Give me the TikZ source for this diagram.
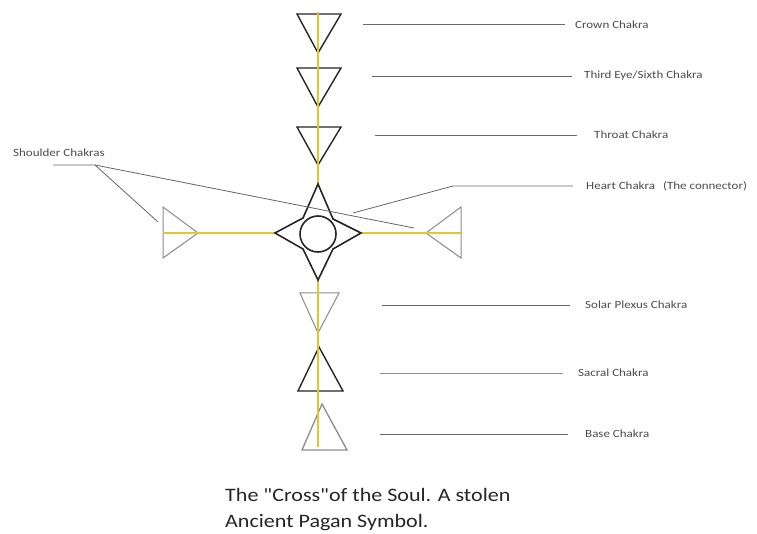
\documentclass[tikz,border=0pt]{standalone}
\usepackage{fontspec}
\setmainfont{Carlito}[Ligatures=TeXOff]
\newcommand{\hsl}[1]{\scalebox{1.18}[1]{#1}}
\newcommand{\hsc}[1]{\scalebox{1.16}[1]{#1}}
\begin{document}
\begin{tikzpicture}[x=1pt,y=-1pt,
  tri/.style={draw=black!85,line width=1.4pt,line join=miter},
  tril/.style={draw=black!45,line width=1pt},
  axis/.style={draw=yellowax,line width=2.6pt},
  lead/.style={draw=black!60,line width=0.8pt},
  lab/.style={anchor=west,inner sep=0pt,font=\fontsize{11}{13}\selectfont,text=black!70},
  captext/.style={anchor=north west,inner sep=0pt,align=left,font=\fontsize{19}{26}\selectfont,text=black!85}]
\definecolor{yellowax}{RGB}{226,196,52}
\useasboundingbox (0,0) rectangle (757,534);
\fill[white] (0,0) rectangle (757,534);
% triangles (top)
\draw[tri] (297,14) -- (341,14) -- (318,53) -- cycle;
\draw[tri] (297,68) -- (341,68) -- (318,107) -- cycle;
\draw[tri] (297,127) -- (341,127) -- (318,165) -- cycle;
% bottom
\draw[tril] (300,293) -- (339,293) -- (318,333) -- cycle;
\draw[tri] (298,391) -- (343,391) -- (319,347) -- cycle;
\draw[tril,line width=1.3pt] (302,450) -- (347,450) -- (322,404) -- cycle;
% shoulders
\draw[tril] (163,207) -- (163,258) -- (198,233) -- cycle;
\draw[tril] (461,207) -- (461,258) -- (426,233) -- cycle;
% axes
\draw[axis] (318,12) -- (318,185);
\draw[axis] (318,280) -- (318,447);
\draw[axis] (163,233) -- (275,233);
\draw[axis] (361,233) -- (462,233);
% heart star
\coordinate (hc) at (318,234);
\draw[tri,line width=1.6pt] (318,184) -- (333,219) -- (361,233) -- (333,249) -- (318,280) -- (303,249) -- (275,233) -- (303,218) -- cycle;
\draw[tri,line width=1.6pt] (hc) circle[radius=18];
% labels
\node[lab] (crown) at (575,25) {\hsl{Crown Chakra}};
\node[lab] (third) at (584,76) {\hsl{Third Eye/Sixth Chakra}};
\node[lab] (throat) at (594,135) {\hsl{Throat Chakra}};
\node[lab] (heart) at (586,186) {\hsl{Heart Chakra \ \,(The connector)}};
\node[lab] (solar) at (585,305) {\hsl{Solar Plexus Chakra}};
\node[lab] (sacral) at (578,373) {\hsl{Sacral Chakra}};
\node[lab] (base) at (585,434) {\hsl{Base Chakra}};
\node[lab] (shoulder) at (13,153) {\hsl{Shoulder Chakras}};
% leaders
\coordinate (c1) at (363,24);
\coordinate (c2) at (372,76);
\coordinate (c3) at (375,135);
\coordinate (c4a) at (453,186);
\coordinate (c4b) at (353,213);
\coordinate (c5) at (382,305);
\coordinate (c6) at (380,373);
\coordinate (c7) at (380,434);
\draw[lead] (c1) -- ([xshift=-10pt]crown.west |- c1);
\draw[lead] (c2) -- ([xshift=-12pt]third.west);
\draw[lead] (c3) -- ([xshift=-17pt]throat.west);
\draw[lead] (c4b) -- (c4a) -- ([xshift=-13pt]heart.west);
\draw[lead] (c5) -- ([xshift=-15pt]solar.west);
\draw[lead,black!45] (c6) -- ([xshift=-15pt]sacral.west);
\draw[lead] (c7) -- ([xshift=-17pt]base.west);
\coordinate (s0) at (53,165);
\coordinate (s1) at (95,165);
\coordinate (sl) at (158,222);
\coordinate (sr) at (414,228);
\draw[lead] (s0) -- (s1) -- (sl);
\draw[lead] (s1) -- (sr);
% caption
\node[captext] (caption) at (225,488) {\hsc{The "Cross"of the Soul. A stolen}\\\hsc{Ancient Pagan Symbol.}};
\end{tikzpicture}
\end{document}
